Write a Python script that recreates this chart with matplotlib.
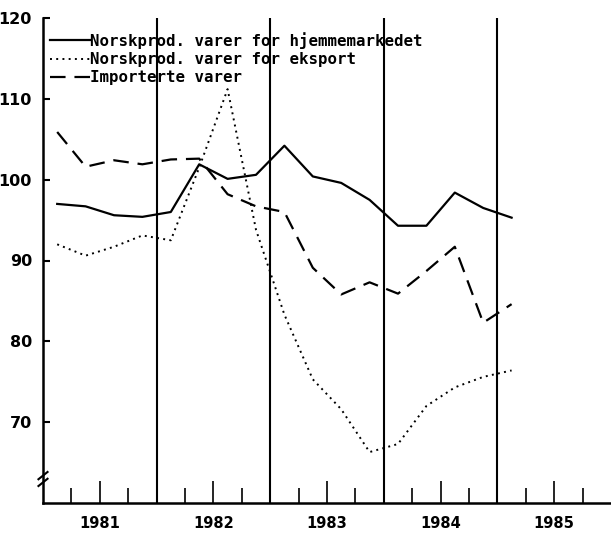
import matplotlib
matplotlib.use("Agg")
import matplotlib.pyplot as plt
from matplotlib.ticker import FixedLocator

# Quarterly periods 1981K1 - 1985K1
perioder = ['1981K1', '1981K2', '1981K3', '1981K4',
            '1982K1', '1982K2', '1982K3', '1982K4',
            '1983K1', '1983K2', '1983K3', '1983K4',
            '1984K1', '1984K2', '1984K3', '1984K4',
            '1985K1']
hjemmemarked = [97.0, 96.7, 95.6, 95.4, 96.0, 101.9, 100.1, 100.6,
                104.2, 100.4, 99.6, 97.5, 94.3, 94.3, 98.4, 96.5, 95.3]
eksport = [92.0, 90.6, 91.7, 93.1, 92.5, 101.5, 111.2, 93.8,
           83.3, 75.3, 71.6, 66.3, 67.3, 72.0, 74.3, 75.6, 76.4]
importerte = [105.9, 101.6, 102.4, 101.9, 102.5, 102.6, 98.2, 96.7,
              96.0, 89.1, 85.8, 87.3, 85.9, 88.7, 91.7, 82.3, 84.6]
aar = ['1981', '1982', '1983', '1984', '1985']
yticks = [70, 80, 90, 100, 110, 120]
labels = ['Norskprod. varer for hjemmemarkedet',
          'Norskprod. varer for eksport',
          'Importerte varer']

def to_x(p):
    y, q = p.split('K')
    return int(y) + (int(q) - 1) * 0.25 + 0.125

x = [to_x(p) for p in perioder]

fig = plt.figure(figsize=(6.11, 5.35), dpi=100)
ax = fig.add_axes([43 / 611, 1 - 503 / 535, 568 / 611, 485 / 535])

ax.plot(x, hjemmemarked, color='black', lw=1.6, ls='-', label=labels[0])
ax.plot(x, eksport, color='black', lw=1.4, ls=(0, (1, 2.2)), label=labels[1])
ax.plot(x, importerte, color='black', lw=1.6, ls=(0, (7, 4)), label=labels[2])

first = int(aar[0])
last = int(aar[-1])
ax.set_xlim(first, last + 1)
ax.set_ylim(60, 120)

for y in range(first + 1, last + 1):
    ax.axvline(y, color='black', lw=1.5)

ax.spines['top'].set_visible(False)
ax.spines['right'].set_visible(False)
ax.spines['left'].set_linewidth(1.8)
ax.spines['bottom'].set_linewidth(1.8)

ax.set_yticks(yticks)
ax.set_yticklabels([str(v) for v in yticks], fontsize=11.5, family='DejaVu Sans',
                   fontweight='bold')
ax.tick_params(axis='y', direction='in', length=5, width=1.5, pad=8)

ax.set_xticks([int(a) + 0.5 for a in aar])
ax.set_xticklabels(aar, fontsize=10.5, family='DejaVu Sans', fontweight='bold')
ax.xaxis.set_minor_locator(FixedLocator([int(a) + q for a in aar for q in (0.25, 0.75)]))
ax.tick_params(axis='x', which='major', direction='in', length=16, width=1.2, pad=9)
ax.tick_params(axis='x', which='minor', direction='in', length=10.5, width=1.2)

# axis break marks
for dy in (0.0, 0.014):
    ax.plot([-0.008, 0.008], [0.035 + dy, 0.05 + dy], transform=ax.transAxes,
            color='black', lw=1.5, clip_on=False)

leg = ax.legend(loc='upper left', bbox_to_anchor=(0.0123, 0.971), frameon=False,
                handlelength=2.55, handletextpad=0.0, labelspacing=0.2,
                borderpad=0, borderaxespad=0,
                prop={'family': 'DejaVu Sans Mono', 'size': 11.3, 'weight': 'bold'})

fig.savefig('out.png', dpi=100)
